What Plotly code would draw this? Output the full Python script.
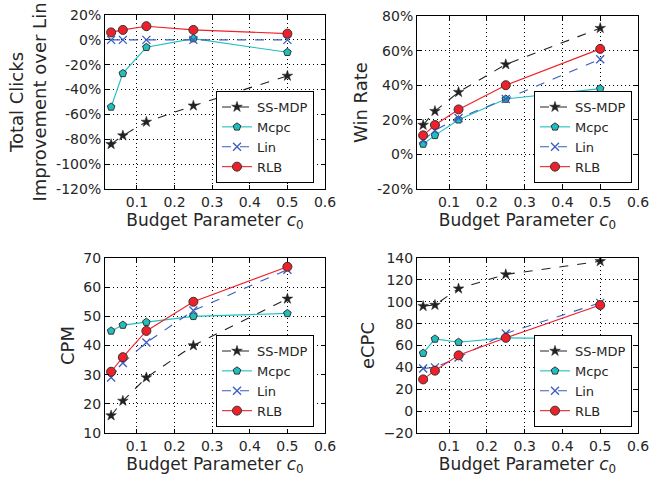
import plotly.graph_objects as go

budget = [1/32, 1/16, 1/8, 1/4, 1/2]
methods = ["SS-MDP", "Mcpc", "Lin", "RLB"]

clicks_impr = {
    "SS-MDP": [-84, -77, -66, -53, -29],
    "Mcpc": [-54, -27, -6, 1, -10],
    "Lin": [0, 0, 0, 0, 0],
    "RLB": [6, 8, 11, 8, 5],
}
win_rate = {
    "SS-MDP": [17, 25, 36, 52, 73],
    "Mcpc": [6, 11, 20, 32, 38],
    "Lin": [8, 14, 21, 32, 55],
    "RLB": [11, 17, 26, 40, 61],
}
cpm = {
    "SS-MDP": [16, 21, 29, 40, 56],
    "Mcpc": [45, 47, 48, 50, 51],
    "Lin": [29, 34, 41, 52, 66],
    "RLB": [31, 36, 45, 55, 67],
}
ecpc = {
    "SS-MDP": [96, 97, 112, 125, 137],
    "Mcpc": [53, 66, 63, 67, 66],
    "Lin": [39, 40, 49, 71, 99],
    "RLB": [29, 37, 51, 67, 97],
}

x_ticks = [0.1, 0.2, 0.3, 0.4, 0.5, 0.6]
x_ticktext = ["0.1", "0.2", "0.3", "0.4", "0.5", "0.6"]
clicks_ticks = [-120, -100, -80, -60, -40, -20, 0, 20]
clicks_ticktext = ["-120%", "-100%", "-80%", "-60%", "-40%", "-20%", "0%", "20%"]
win_ticks = [-20, 0, 20, 40, 60, 80]
win_ticktext = ["-20%", "0%", "20%", "40%", "60%", "80%"]
cpm_ticks = [10, 20, 30, 40, 50, 60, 70]
ecpc_ticks = [-20, 0, 20, 40, 60, 80, 100, 120, 140]

styles = {
    "SS-MDP": dict(line=dict(color="#222222", dash="dash", width=1.1),
                   marker=dict(symbol="star", size=8, color="#222222",
                               line=dict(color="#222222", width=0.5))),
    "Mcpc": dict(line=dict(color="#1fbfbf", dash="solid", width=1.1),
                 marker=dict(symbol="pentagon", size=8, color="#1fbfbf",
                             line=dict(color="#333333", width=1))),
    "Lin": dict(line=dict(color="#3a5cc0", dash="dash", width=1.1),
                marker=dict(symbol="x-thin", size=8, color="#3a5cc0",
                            line=dict(color="#3a5cc0", width=1.3))),
    "RLB": dict(line=dict(color="#f0202a", dash="solid", width=1.1),
                marker=dict(symbol="circle", size=9, color="#f0202a",
                            line=dict(color="#333333", width=1))),
}

W, H = 672, 479
panels = [
    dict(data=clicks_impr, xd=(105, 325), yd=(15, 189), ticks=clicks_ticks,
         ticktext=clicks_ticktext, yr=(-120, 20),
         ytitle="Total Clicks<br>Improvement over Lin", leg=(314, 183)),
    dict(data=win_rate, xd=(417, 638), yd=(16, 189), ticks=win_ticks,
         ticktext=win_ticktext, yr=(-20, 80), ytitle="Win Rate", leg=(632, 183)),
    dict(data=cpm, xd=(105, 325), yd=(258, 433), ticks=cpm_ticks,
         ticktext=None, yr=(10, 70), ytitle="CPM", leg=(314, 427)),
    dict(data=ecpc, xd=(417, 638), yd=(258, 433), ticks=ecpc_ticks,
         ticktext=None, yr=(-20, 140), ytitle="eCPC", leg=(632, 427)),
]


def px_x(v):
    return v / W


def px_y(v):
    return 1 - v / H


fig = go.Figure()
font_color = "#262626"
layout = dict(width=W, height=H, margin=dict(l=0, r=0, t=0, b=0, autoexpand=False),
              plot_bgcolor="white", paper_bgcolor="white",
              font=dict(family="DejaVu Sans", color=font_color, size=14))

for i, p in enumerate(panels):
    n = i + 1
    xa = "x" if n == 1 else f"x{n}"
    ya = "y" if n == 1 else f"y{n}"
    leg = "legend" if n == 1 else f"legend{n}"
    for m in methods:
        fig.add_trace(go.Scatter(x=budget, y=p["data"][m], name=m, mode="lines+markers",
                                 xaxis=xa, yaxis=ya, legend=leg, **styles[m]))
    axis_common = dict(showline=True, linecolor="black", linewidth=1, mirror="ticks",
                       ticks="inside", ticklen=4, tickcolor="black", automargin=False,
                       ticklabeloverflow="allow",
                       showgrid=True, gridcolor="black", gridwidth=1, griddash="1px,3px",
                       zeroline=False, tickfont=dict(size=14, color=font_color))
    xkey = "xaxis" if n == 1 else f"xaxis{n}"
    ykey = "yaxis" if n == 1 else f"yaxis{n}"
    layout[xkey] = dict(axis_common, domain=[px_x(p["xd"][0]), px_x(p["xd"][1])],
                        anchor=ya, range=[0.015, 0.6], tickvals=x_ticks, ticktext=x_ticktext,
                        title=dict(text="Budget Parameter <i>c</i><sub>0</sub>",
                                   font=dict(size=17), standoff=0))
    yax = dict(axis_common, domain=[px_y(p["yd"][1]), px_y(p["yd"][0])],
               anchor=xa, range=list(p["yr"]), tickvals=p["ticks"],
               title=dict(text=p["ytitle"], font=dict(size=18), standoff=4))
    if p["ticktext"] is not None:
        yax["ticktext"] = p["ticktext"]
    layout[ykey] = yax
    layout[leg] = dict(x=px_x(p["leg"][0]), y=px_y(p["leg"][1]), xanchor="right",
                       yanchor="bottom", bordercolor="black", borderwidth=1,
                       bgcolor="white", font=dict(size=13, color=font_color),
                       tracegroupgap=0, itemwidth=30)

fig.update_layout(**layout)
fig.write_html("out.html", config={"displayModeBar": False},
               post_script="document.body.style.margin='0';document.body.style.overflow='hidden';")
